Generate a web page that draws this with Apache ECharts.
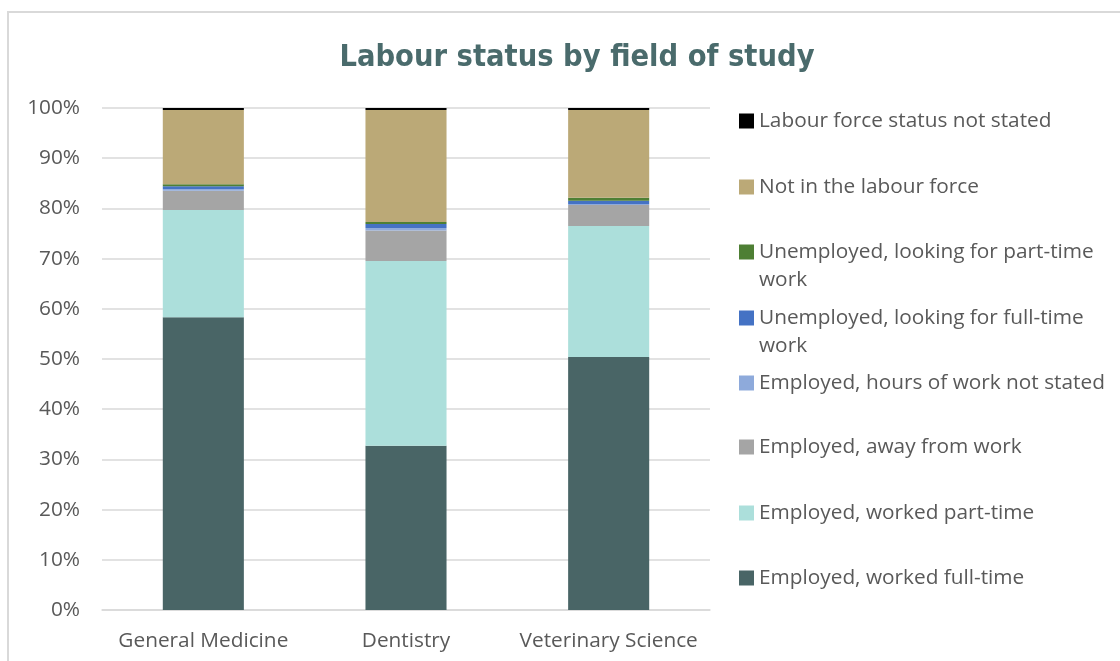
<!DOCTYPE html>
<html>
<head>
<meta charset="utf-8">
<script src="https://cdn.jsdelivr.net/npm/echarts@6/dist/echarts.min.js"></script>
<style>html,body{margin:0;padding:0;background:#fff;}#c{width:1120px;height:661px;}</style>
</head>
<body>
<div id="c"></div>
<script>
const categories = ['General Medicine', 'Dentistry', 'Veterinary Science'];
const seriesNames = [
  'Employed, worked full-time',
  'Employed, worked part-time',
  'Employed, away from work',
  'Employed, hours of work not stated',
  'Unemployed, looking for full-time work',
  'Unemployed, looking for part-time work',
  'Not in the labour force',
  'Labour force status not stated'
];
const workedFullTime   = [58.3, 32.7, 50.4];
const workedPartTime   = [21.4, 36.8, 26.1];
const awayFromWork     = [3.8, 6.1, 4.2];
const hoursNotStated   = [0.3, 0.5, 0.2];
const lookingFullTime  = [0.6, 0.8, 0.6];
const lookingPartTime  = [0.4, 0.4, 0.6];
const notInLabourForce = [14.8, 22.3, 17.5];
const statusNotStated  = [0.4, 0.4, 0.4];
const yTicks = [0, 10, 20, 30, 40, 50, 60, 70, 80, 90, 100];

const values = [workedFullTime, workedPartTime, awayFromWork, hoursNotStated, lookingFullTime, lookingPartTime, notInLabourForce, statusNotStated];
const colors = ['#496566', '#acdfdb', '#a5a5a5', '#8eaadb', '#4472c4', '#4e7f34', '#bba977', '#000000'];

const legendY = {
  'Labour force status not stated': 119,
  'Not in the labour force': 185,
  'Unemployed, looking for part-time work': 250,
  'Unemployed, looking for full-time work': 316,
  'Employed, hours of work not stated': 381,
  'Employed, away from work': 445,
  'Employed, worked part-time': 511,
  'Employed, worked full-time': 576
};
const wrapAt = {
  'Unemployed, looking for part-time work': ' \nUnemployed, looking for part-time\nwork',
  'Unemployed, looking for full-time work': ' \nUnemployed, looking for full-time\nwork'
};
const LH = 28;
const FONT = '"Open Sans", Lato, sans-serif';
const legends = seriesNames.map(n => {
  const two = !!wrapAt[n];
  const H = two ? LH * 3 : LH;
  return {
    data: [n],
    left: 739,
    top: legendY[n] - H / 2 + 2,
    orient: 'vertical',
    icon: 'rect',
    itemWidth: 15,
    itemHeight: 15,
    itemGap: 0,
    padding: 0,
    selectedMode: false,
    formatter: () => two ? wrapAt[n] : n,
    textStyle: {
      fontFamily: FONT,
      fontSize: 20.8,
      color: '#595959',
      lineHeight: LH
    }
  };
});

const chart = echarts.init(document.getElementById('c'), null, {renderer: 'canvas'});
chart.setOption({
  backgroundColor: '#ffffff',
  animation: false,
  title: {
    text: 'Labour status by field of study',
    left: 572,
    textAlign: 'center',
    top: 38,
    textStyle: {
      fontFamily: '"DejaVu Sans Condensed", "DejaVu Sans", sans-serif',
      fontWeight: 'bold',
      fontSize: 30.5,
      color: '#4a6b6c'
    }
  },
  graphic: [{
    type: 'rect',
    shape: {x: 8, y: 12, width: 1130, height: 670},
    style: {fill: 'none', stroke: '#d9d9d9', lineWidth: 2},
    silent: true
  }],
  legend: legends,
  grid: {left: 102, right: 410, top: 108, bottom: 51},
  xAxis: {
    type: 'category',
    data: categories,
    axisTick: {show: false},
    axisLine: {lineStyle: {color: '#d9d9d9', width: 1.5}},
    axisLabel: {
      interval: 0,
      hideOverlap: false,
      fontFamily: FONT,
      fontSize: 20.8,
      color: '#595959',
      margin: 21
    }
  },
  yAxis: {
    type: 'value',
    min: 0,
    max: 100,
    interval: 10,
    axisLine: {show: false},
    axisTick: {show: false},
    splitLine: {lineStyle: {color: '#d9d9d9', width: 1.5}},
    axisLabel: {
      formatter: v => yTicks.includes(v) ? v + '%' : '',
      fontFamily: FONT,
      fontSize: 20.8,
      color: '#595959',
      margin: 22
    }
  },
  series: seriesNames.map((n, i) => ({
    name: n,
    type: 'bar',
    stack: 'total',
    barWidth: '40%',
    data: values[i],
    itemStyle: {color: colors[i]},
    emphasis: {disabled: true}
  }))
});
</script>
</body>
</html>
